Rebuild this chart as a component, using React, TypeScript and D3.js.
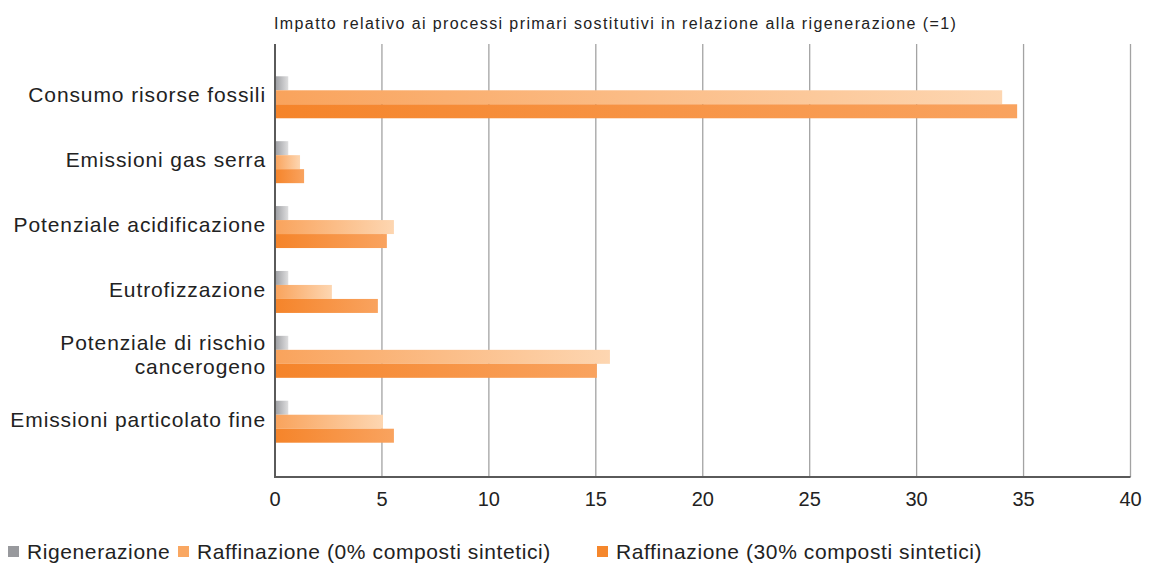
import React from "react";
import * as d3 from "d3";

const categories = [
  "Consumo risorse fossili",
  "Emissioni gas serra",
  "Potenziale acidificazione",
  "Eutrofizzazione",
  "Potenziale di rischio\ncancerogeno",
  "Emissioni particolato fine",
];
const seriesNames = [
  "Rigenerazione",
  "Raffinazione (0% composti sintetici)",
  "Raffinazione (30% composti sintetici)",
];
const rigenerazione = [0.62, 0.62, 0.62, 0.62, 0.62, 0.62];
const raffinazione0 = [34.0, 1.17, 5.56, 2.66, 15.66, 5.05];
const raffinazione30 = [34.7, 1.36, 5.23, 4.81, 15.05, 5.56];
const xTicks = [0, 5, 10, 15, 20, 25, 30, 35, 40];
const title = "Impatto relativo ai processi primari sostitutivi in relazione alla rigenerazione (=1)";

const seriesValues = [rigenerazione, raffinazione0, raffinazione30];
const gradStops = [
  ["#9c9da1", "#dededf"],
  ["#f9a35c", "#fdd6b1"],
  ["#f5842a", "#f9a35f"],
];
const legendColors = ["#98999d", "#f9a762", "#f5872c"];

const W = 1152;
const H = 565;
const FONT = "'Liberation Sans', Arial, sans-serif";

export default function App() {
  const x = d3.scaleLinear().domain([0, 40]).range([275, 1130.5]);
  const y = d3
    .scaleBand<string>()
    .domain(categories)
    .range([65, 454])
    .paddingInner(0.353)
    .paddingOuter(0.174);
  const ys = d3
    .scaleBand<string>()
    .domain(seriesNames)
    .range([0, y.bandwidth()]);
  const plotTop = 44;
  const plotBottom = 477;

  const legendX = [8, 178, 597];

  return (
    <svg
      width={W}
      height={H}
      style={{ position: "absolute", left: 0, top: 0, background: "#fff" }}
      fontFamily={FONT}
    >
      <defs>
        {gradStops.map((s, i) => (
          <linearGradient key={i} id={`g${i}`} x1="0" x2="1" y1="0" y2="0">
            <stop offset="0" stopColor={s[0]} />
            <stop offset="1" stopColor={s[1]} />
          </linearGradient>
        ))}
      </defs>
      <text x={274} y={29} fontSize={16} letterSpacing={1.4} fill="#222">
        {title}
      </text>
      {xTicks.slice(1).map((t) => (
        <line
          key={t}
          x1={x(t)}
          x2={x(t)}
          y1={plotTop}
          y2={plotBottom}
          stroke="#a3a3a3"
          strokeWidth={1.3}
        />
      ))}
      {categories.map((c, ci) =>
        seriesNames.map((s, si) => (
          <rect
            key={c + s}
            x={x(0)}
            y={(y(c) as number) + (ys(s) as number)}
            width={x(seriesValues[si][ci]) - x(0)}
            height={ys.bandwidth()}
            fill={`url(#g${si})`}
          />
        ))
      )}
      <line x1={x(0)} x2={x(0)} y1={plotTop} y2={plotBottom} stroke="#5a5a5a" strokeWidth={2} />
      <line x1={x(0) - 1} x2={x(40)} y1={plotBottom} y2={plotBottom} stroke="#5a5a5a" strokeWidth={2} />
      {xTicks.map((t) => (
        <text key={t} x={x(t)} y={506} fontSize={20} textAnchor="middle" fill="#222">
          {t}
        </text>
      ))}
      {categories.map((c) => {
        const lines = c.split("\n");
        const cy = (y(c) as number) + y.bandwidth() / 2;
        const lh = 24;
        return (
          <text key={c} x={266} fontSize={21} letterSpacing={0.9} textAnchor="end" fill="#222">
            {lines.map((l, i) => (
              <tspan key={i} x={266} y={cy + 5 + (i - (lines.length - 1) / 2) * lh}>
                {l}
              </tspan>
            ))}
          </text>
        );
      })}
      {seriesNames.map((s, i) => (
        <g key={s}>
          <rect x={legendX[i]} y={546} width={11} height={11} fill={legendColors[i]} />
          <text x={legendX[i] + 19} y={559} fontSize={21} letterSpacing={0.6} fill="#222">
            {s}
          </text>
        </g>
      ))}
    </svg>
  );
}
